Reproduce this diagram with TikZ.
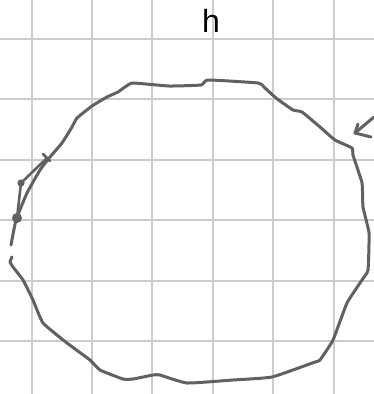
\documentclass[tikz,border=0pt]{standalone}
\usepackage{fontspec}
\setmainfont{Liberation Sans}
\begin{document}
\begin{tikzpicture}[x=1pt,y=-1pt,
  gridline/.style={draw=black!20,line width=1.6pt},
  pen/.style={draw=black!62,line width=3pt,line cap=round,line join=round},
  thinpen/.style={draw=black!62,line width=2.6pt,line cap=round,line join=round}]
\useasboundingbox (0,0) rectangle (374,394);
\fill[white] (0,0) rectangle (374,394);
\foreach \gx in {32,92,152,213,273,334} \draw[gridline] (\gx,0) -- (\gx,394);
\foreach \gy in {39,99,160,220,281,341} \draw[gridline] (0,\gy) -- (374,\gy);
% outline
\draw[pen] plot[smooth,tension=0.25] coordinates {
 (12,257) (10,262) (13,267) (23,280) (33,300) (43,323) (67,343) (90,360) (100,370)
 (123,379) (133,379) (153,375) (160,375) (187,383) (233,380) (272,377) (315,362)
 (320,360) (333,340) (347,303) (362,280) (368,270) (369,233) (363,207) (362,183)
 (353,155) (352,148) (335,140) (320,127) (302,112) (293,110) (276,98) (265,88)
 (258,83) (208,80) (201,85) (169,86) (133,83) (125,87) (118,92) (107,97) (92,106)
 (77,118) (72,127) (62,143) (50,157) (40,170) (27,193) (16,220) (11,245)};
% small triangle
\draw[thinpen] (17,218) -- (21,183) -- (47,158);
\draw[thinpen] (43,154) -- (50,161);
\fill[black!62] (21,183) circle (3.6);
\fill[black!62] (17,218) circle (5);
% arrow
\coordinate (atail) at (374,117);
\coordinate (atip) at (355,133);
\draw[pen] (atail) -- (atip);
\draw[pen] (358,124) -- (atip) -- (371,137);
% label
\node[font=\fontsize{32}{32}\selectfont,inner sep=0pt] (hlabel) at (211,21) {h};
\end{tikzpicture}
\end{document}
